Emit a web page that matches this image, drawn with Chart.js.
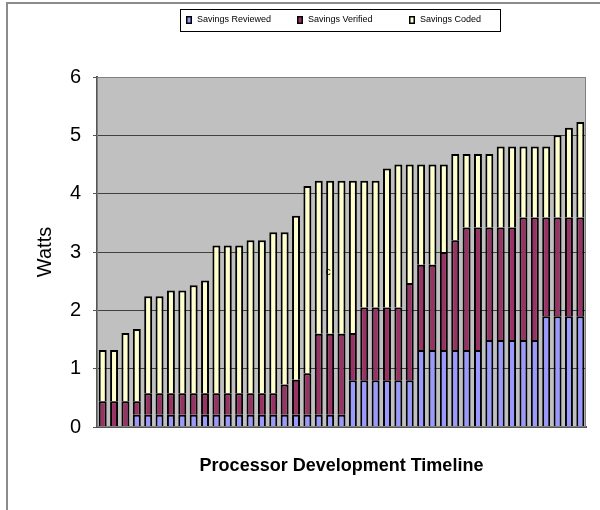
<!DOCTYPE html>
<html>
<head>
<meta charset="utf-8">
<script src="https://cdn.jsdelivr.net/npm/chart.js@4/dist/chart.umd.min.js"></script>
<style>
  html, body { margin: 0; padding: 0; background: #ffffff; }
  #c { display: block; }
</style>
</head>
<body>
<canvas id="c" width="600" height="510"></canvas>
<script>
// Processor builds along the development timeline (not labelled on the axis)
const builds = ['1','2','3','4','5','6','7','8','9','10','11','12','13','14','15','16','17','18','19','20','21','22','23','24','25','26','27','28','29','30','31','32','33','34','35','36','37','38','39','40','41','42','43'];

// Stacked savings per build, in watts
const savingsReviewed = [0, 0, 0, 0.21, 0.21, 0.21, 0.21, 0.21, 0.21, 0.21, 0.21, 0.21, 0.21, 0.21, 0.21, 0.21, 0.21, 0.21, 0.21, 0.21, 0.21, 0.21, 0.80, 0.80, 0.80, 0.80, 0.80, 0.80, 1.32, 1.32, 1.32, 1.32, 1.32, 1.32, 1.49, 1.49, 1.49, 1.49, 1.49, 1.90, 1.90, 1.90, 1.90];
const savingsVerified = [0.44, 0.44, 0.44, 0.23, 0.37, 0.37, 0.37, 0.37, 0.37, 0.37, 0.37, 0.37, 0.37, 0.37, 0.37, 0.37, 0.52, 0.60, 0.71, 1.39, 1.39, 1.39, 0.81, 1.25, 1.25, 1.25, 1.25, 1.67, 1.46, 1.46, 1.68, 1.88, 2.10, 2.10, 1.93, 1.93, 1.93, 2.10, 2.10, 1.69, 1.69, 1.69, 1.69];
const savingsCoded = [0.88, 0.88, 1.17, 1.24, 1.66, 1.66, 1.76, 1.76, 1.85, 1.93, 2.53, 2.53, 2.53, 2.62, 2.62, 2.76, 2.61, 2.81, 3.21, 2.62, 2.62, 2.62, 2.61, 2.17, 2.17, 2.38, 2.45, 2.03, 1.72, 1.72, 1.50, 1.48, 1.26, 1.26, 1.26, 1.39, 1.39, 1.22, 1.22, 1.22, 1.41, 1.54, 1.64];

const wattTicks = [0, 1, 2, 3, 4, 5, 6];

// Stray note sitting inside the plot: [build index, watts, text]
const plotNote = [20, 2.66, 'c'];

const FONT = 'Liberation Sans, Arial, Helvetica, sans-serif';

// Grey plot area behind the bars
const plotBackground = {
  id: 'plotBackground',
  beforeDraw(chart) {
    const { ctx, chartArea: a } = chart;
    ctx.save();
    ctx.fillStyle = '#c0c0c0';
    ctx.fillRect(a.left, a.top, a.right - a.left, a.bottom - a.top);
    ctx.restore();
  }
};

// Plot border, outer frame, boxed legend and the in-plot note
const decorations = {
  id: 'decorations',
  afterDraw(chart) {
    const { ctx, chartArea: a } = chart;
    ctx.save();

    ctx.strokeStyle = '#808080';
    ctx.lineWidth = 1;
    ctx.strokeRect(a.left + 0.5, a.top + 0.5, a.right - a.left - 1, a.bottom - a.top - 1);

    ctx.strokeStyle = '#8c8c8c';
    ctx.lineWidth = 2;
    ctx.strokeRect(7, 3, 640, 560);

    // legend
    ctx.strokeStyle = '#000000';
    ctx.lineWidth = 1;
    ctx.strokeRect(180.5, 9.5, 320, 22);
    const markerX = [186, 297, 409];
    ctx.font = '9px ' + FONT;
    ctx.textBaseline = 'middle';
    ctx.textAlign = 'left';
    chart.data.datasets.forEach((ds, i) => {
      const x = markerX[i];
      ctx.fillStyle = '#000000';
      ctx.fillRect(x, 16, 6, 8);
      ctx.fillStyle = ds.backgroundColor;
      ctx.fillRect(x + 1.5, 17.5, 3, 5);
      ctx.fillStyle = '#000000';
      ctx.fillText(ds.label, x + 11, 20);
    });

    // note
    const xs = chart.scales.x, ys = chart.scales.y;
    ctx.font = '10px ' + FONT;
    ctx.fillStyle = '#000000';
    ctx.textAlign = 'center';
    ctx.fillText(plotNote[2], xs.getPixelForValue(plotNote[0]) - 2, ys.getPixelForValue(plotNote[1]));
    ctx.restore();
  }
};

const barStyle = { borderColor: '#000000', borderWidth: 2, barPercentage: 0.7, categoryPercentage: 1.0 };

new Chart(document.getElementById('c'), {
  type: 'bar',
  data: {
    labels: builds,
    datasets: [
      Object.assign({ label: 'Savings Reviewed', data: savingsReviewed, backgroundColor: '#9999ff' }, barStyle),
      Object.assign({ label: 'Savings Verified', data: savingsVerified, backgroundColor: '#993366' }, barStyle),
      Object.assign({ label: 'Savings Coded', data: savingsCoded, backgroundColor: '#ffffcc' }, barStyle)
    ]
  },
  options: {
    responsive: false,
    animation: false,
    devicePixelRatio: 1,
    layout: { padding: { top: 77, right: 14, left: 0, bottom: 0 } },
    plugins: { legend: { display: false }, tooltip: { enabled: false } },
    scales: {
      x: {
        stacked: true,
        grid: { display: false, drawTicks: false },
        ticks: { display: false },
        border: { display: true, color: '#555555', width: 2 },
        title: {
          display: true,
          text: 'Processor Development Timeline',
          color: '#000000',
          font: { family: FONT, size: 18, weight: 'bold' },
          padding: { top: 0, bottom: 33 }
        },
        afterFit(s) { s.height = 83; }
      },
      y: {
        stacked: true,
        min: 0,
        max: 6,
        afterBuildTicks(s) { s.ticks = wattTicks.map(v => ({ value: v })); },
        ticks: { color: '#000000', font: { family: FONT, size: 20 }, padding: 12 },
        grid: { color: '#404040', lineWidth: 1, drawTicks: true, tickLength: 4, tickColor: '#555555' },
        border: { display: true, color: '#555555', width: 2 },
        title: {
          display: true,
          text: 'Watts',
          color: '#000000',
          font: { family: FONT, size: 20 },
          padding: { top: 33, bottom: 0 }
        },
        afterFit(s) { s.width = 97; }
      }
    }
  },
  plugins: [plotBackground, decorations]
});
</script>
</body>
</html>
